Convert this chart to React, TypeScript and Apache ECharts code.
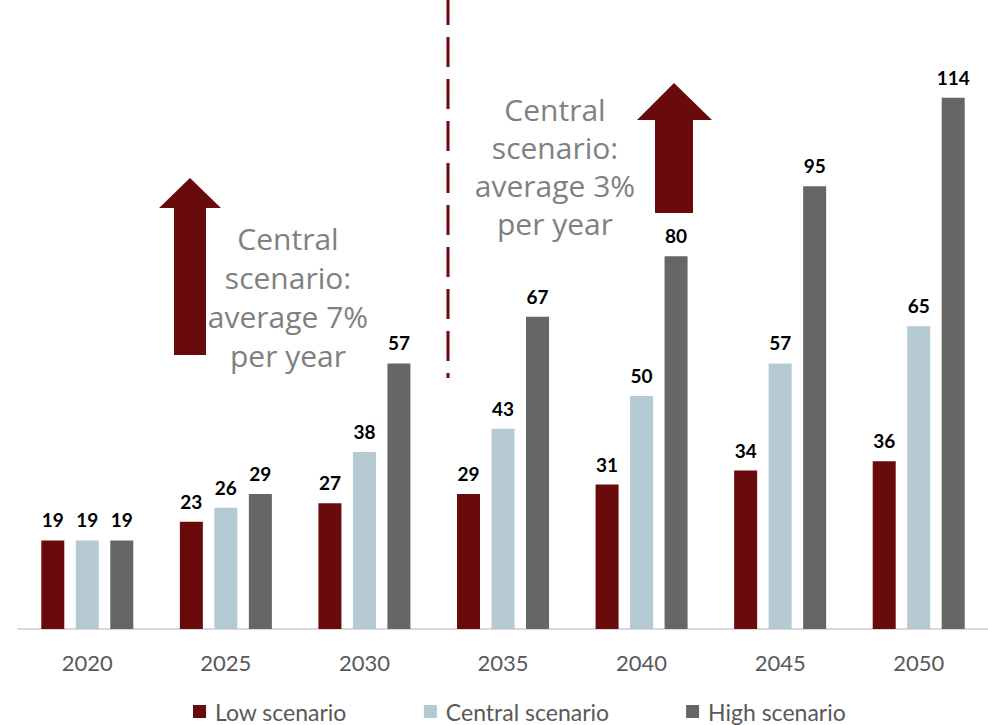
import React, { useEffect, useRef } from "react";
import * as echarts from "echarts";

const years = ["2020", "2025", "2030", "2035", "2040", "2045", "2050"];
const lowScenario = [19, 23, 27, 29, 31, 34, 36];
const centralScenario = [19, 26, 38, 43, 50, 57, 65];
const highScenario = [19, 29, 57, 67, 80, 95, 114];
const seriesNames = ["Low scenario", "Central scenario", "High scenario"];
const annotation1 = "Central\nscenario:\naverage 7%\nper year";
const annotation2 = "Central\nscenario:\naverage 3%\nper year";

const COLORS = ["#690b0d", "#b4c9d2", "#666666"];
const ARROW = "#690b0d";

export default function App() {
  const ref = useRef<HTMLDivElement>(null);
  useEffect(() => {
    if (!ref.current) return;
    const chart = echarts.init(ref.current, null, { renderer: "svg" });
    const label = {
      show: true,
      position: "top" as const,
      distance: 11,
      color: "#000",
      fontFamily: "Lato",
      fontWeight: "bold" as const,
      fontSize: 19,
    };
    const mk = (name: string, data: number[], color: string) => ({
      name,
      type: "bar" as const,
      data,
      barWidth: 23,
      barGap: "50%",
      itemStyle: { color },
      label,
    });
    chart.setOption({
      animation: false,
      backgroundColor: "#fff",
      grid: { left: 18, top: 0, width: 973, height: 629, containLabel: false },
      legend: {
        left: 188,
        top: 695,
        itemGap: 77,
        itemWidth: 13,
        itemHeight: 13,
        icon: "rect",
        textStyle: { fontFamily: "Lato", fontSize: 23, color: "#595959", padding: [0, 0, 0, 4] },
        data: [
          { name: seriesNames[0] },
          { name: seriesNames[1], textStyle: { padding: [0, 4, 0, 4] } },
          { name: seriesNames[2] },
        ],
      },
      xAxis: {
        type: "category",
        data: years,
        axisLine: { lineStyle: { color: "#d9d9d9", width: 2 } },
        axisTick: { show: false },
        axisLabel: { margin: 22, fontFamily: "Lato", fontSize: 22, color: "#595959" },
      },
      yAxis: {
        type: "value",
        min: 0,
        max: 135,
        show: false,
        splitLine: { show: false },
      },
      series: [
        mk(seriesNames[0], lowScenario, COLORS[0]),
        mk(seriesNames[1], centralScenario, COLORS[1]),
        mk(seriesNames[2], highScenario, COLORS[2]),
      ],
      graphic: [
        {
          type: "line",
          shape: { x1: 448, y1: -5, x2: 448, y2: 378 },
          style: { stroke: ARROW, lineWidth: 3, lineDash: [30, 12] },
        },
        {
          type: "polygon",
          shape: {
            points: [
              [190, 178], [221, 208], [206, 208], [206, 355],
              [174, 355], [174, 208], [159, 208],
            ],
          },
          style: { fill: ARROW },
        },
        {
          type: "polygon",
          shape: {
            points: [
              [674, 83], [712, 120], [693, 120], [693, 213],
              [655, 213], [655, 120], [637, 120],
            ],
          },
          style: { fill: ARROW },
        },
        {
          type: "text",
          x: 288,
          y: 219,
          style: {
            text: annotation1,
            fontFamily: "Open Sans",
            fontSize: 30,
            lineHeight: 39,
            fill: "#808080",
            textAlign: "center",
            textVerticalAlign: "top",
          },
        },
        {
          type: "text",
          x: 555,
          y: 90,
          style: {
            text: annotation2,
            fontFamily: "Open Sans",
            fontSize: 30,
            lineHeight: 38,
            fill: "#808080",
            textAlign: "center",
            textVerticalAlign: "top",
          },
        },
      ],
    });
    return () => chart.dispose();
  }, []);
  return <div ref={ref} style={{ width: 988, height: 725, position: "absolute", left: 0, top: 0 }} />;
}
